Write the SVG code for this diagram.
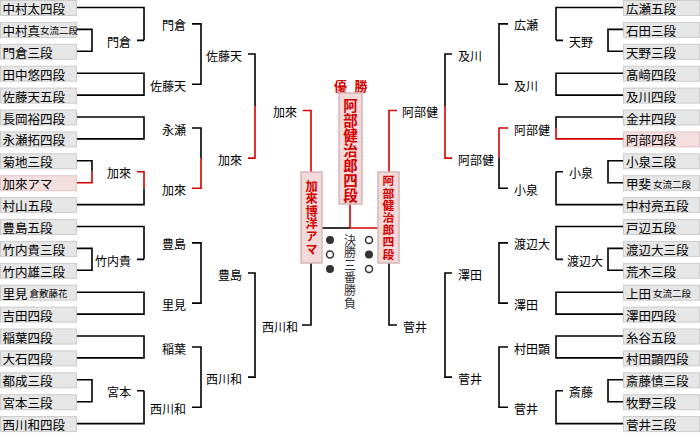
<svg xmlns="http://www.w3.org/2000/svg" width="700" height="433" viewBox="0 0 700 433">
<style>
.b{fill:#e6e6e6;stroke:#cccccc;stroke-width:1}
.p{fill:#f4dfdf;stroke:#e2c4c4;stroke-width:1}
.f{fill:#f2dada;stroke:#d6b6b6;stroke-width:1.5}
text{font-family:"Noto Sans CJK JP","Noto Sans CJK SC",sans-serif;font-size:12.5px;fill:#000;dominant-baseline:central}
.n{font-size:12px}
.e{text-anchor:end}
.s{font-size:9.5px}
.k{stroke:#000;stroke-width:1.6;fill:none}
.r{stroke:#d40000;stroke-width:1.6;fill:none}
.fr{font-weight:bold;fill:#d40000;text-anchor:middle}
.v{writing-mode:vertical-rl;text-anchor:start}
.vr{font-weight:bold;fill:#d40000}
.m{fill:#333;font-size:12px;letter-spacing:0.6px}
.dot{fill:#333}
.ring{fill:#fff;stroke:#333;stroke-width:1.5}
</style>
<rect width="700" height="433" fill="#fff"/>
<g id="connectors">
<path class="k" d="M77 29.4H92V51.3H77M137 40.35H144M77 248.4H92V270.3H77M137 259.35H144M77 379.8H92V401.7H77M137 390.75H144"/>
<path class="k" d="M77 160.8H92V171.75"/>
<path class="r" d="M92 171.75V182.7H77M137 171.75H144V188.2"/>
<path class="k" d="M77 7.5H144V40.35M77 73.2H144V95.1H77M77 117H144V138.9H77M144 188.2V204.6H77M77 226.5H144V259.35M77 292.2H144V314.1H77M77 336H144V357.9H77M144 390.75V423.6H77"/>
<path class="k" d="M192 23.9H201V84.2H192M192 84.2H201M192 128H201V158.1M192 242.9H201V303.15H192M192 347H201V407.2H192M192 407.2H201"/>
<path class="r" d="M192 188.2H201V158.1"/>
<path class="k" d="M248 54H255V106M248 273H255V377.1H248"/>
<path class="r" d="M255 106V158.1H248"/>
<path class="r" d="M303 110.5H311V172"/>
<path class="k" d="M311 263V325H302"/>
<path class="k" d="M623 29.4H608V51.3H623M563 40.35H556M623 160.8H608V182.7H623M563 171.75H556M623 248.4H608V270.3H623M563 259.35H556M623 379.8H608V401.7H623M563 390.75H556"/>
<path class="k" d="M623 7.5H556V40.35M623 73.2H556V95.1H623M623 117H556V128M556 171.75V204.6H623M623 226.5H556V259.35M623 292.2H556V314.1H623M623 336H556V357.9H623M556 390.75V423.6H623"/>
<path class="r" d="M556 128V138.9H623M508 128H499V158.1"/>
<path class="k" d="M508 23.9H499V84.2H508M499 158.1V188.2H508M508 242.9H499V303.15H508M508 347H499V407.2H508"/>
<path class="k" d="M452 54H445V106M452 273H445V377.1H452"/>
<path class="r" d="M445 106V158.1H452M397 110.5H389V172"/>
<path class="k" d="M389 263V325H397"/>
<path class="k" d="M322 228H350"/>
<path class="r" d="M350 204V228H378"/>
</g>
<g id="left-entrants">
<g id="L0"><rect class="b" x="0.5" y="0.5" width="76" height="15"/><text x="2.5" y="8.5">中村太四段</text></g>
<g id="L1"><rect class="b" x="0.5" y="22.4" width="76" height="15"/><text x="2.5" y="30.4">中村真<tspan class="s">女流二段</tspan></text></g>
<g id="L2"><rect class="b" x="0.5" y="44.3" width="76" height="15"/><text x="2.5" y="52.3">門倉三段</text></g>
<g id="L3"><rect class="b" x="0.5" y="66.2" width="76" height="15"/><text x="2.5" y="74.2">田中悠四段</text></g>
<g id="L4"><rect class="b" x="0.5" y="88.1" width="76" height="15"/><text x="2.5" y="96.1">佐藤天五段</text></g>
<g id="L5"><rect class="b" x="0.5" y="110" width="76" height="15"/><text x="2.5" y="118">長岡裕四段</text></g>
<g id="L6"><rect class="b" x="0.5" y="131.9" width="76" height="15"/><text x="2.5" y="139.9">永瀬拓四段</text></g>
<g id="L7"><rect class="b" x="0.5" y="153.8" width="76" height="15"/><text x="2.5" y="161.8">菊地三段</text></g>
<g id="L8"><rect class="p" x="0.5" y="175.7" width="76" height="15"/><text x="2.5" y="183.7">加來アマ</text></g>
<g id="L9"><rect class="b" x="0.5" y="197.6" width="76" height="15"/><text x="2.5" y="205.6">村山五段</text></g>
<g id="L10"><rect class="b" x="0.5" y="219.5" width="76" height="15"/><text x="2.5" y="227.5">豊島五段</text></g>
<g id="L11"><rect class="b" x="0.5" y="241.4" width="76" height="15"/><text x="2.5" y="249.4">竹内貴三段</text></g>
<g id="L12"><rect class="b" x="0.5" y="263.3" width="76" height="15"/><text x="2.5" y="271.3">竹内雄三段</text></g>
<g id="L13"><rect class="b" x="0.5" y="285.2" width="76" height="15"/><text x="2.5" y="293.2">里見<tspan class="s" dx="2">倉敷藤花</tspan></text></g>
<g id="L14"><rect class="b" x="0.5" y="307.1" width="76" height="15"/><text x="2.5" y="315.1">吉田四段</text></g>
<g id="L15"><rect class="b" x="0.5" y="329" width="76" height="15"/><text x="2.5" y="337">稲葉四段</text></g>
<g id="L16"><rect class="b" x="0.5" y="350.9" width="76" height="15"/><text x="2.5" y="358.9">大石四段</text></g>
<g id="L17"><rect class="b" x="0.5" y="372.8" width="76" height="15"/><text x="2.5" y="380.8">都成三段</text></g>
<g id="L18"><rect class="b" x="0.5" y="394.7" width="76" height="15"/><text x="2.5" y="402.7">宮本三段</text></g>
<g id="L19"><rect class="b" x="0.5" y="416.6" width="76" height="15"/><text x="2.5" y="424.6">西川和四段</text></g>
</g>
<g id="right-entrants">
<g id="R0"><rect class="b" x="623.5" y="0.5" width="76" height="15"/><text x="626" y="8.5">広瀬五段</text></g>
<g id="R1"><rect class="b" x="623.5" y="22.4" width="76" height="15"/><text x="626" y="30.4">石田三段</text></g>
<g id="R2"><rect class="b" x="623.5" y="44.3" width="76" height="15"/><text x="626" y="52.3">天野三段</text></g>
<g id="R3"><rect class="b" x="623.5" y="66.2" width="76" height="15"/><text x="626" y="74.2">髙﨑四段</text></g>
<g id="R4"><rect class="b" x="623.5" y="88.1" width="76" height="15"/><text x="626" y="96.1">及川四段</text></g>
<g id="R5"><rect class="b" x="623.5" y="110" width="76" height="15"/><text x="626" y="118">金井四段</text></g>
<g id="R6"><rect class="p" x="623.5" y="131.9" width="76" height="15"/><text x="626" y="139.9">阿部四段</text></g>
<g id="R7"><rect class="b" x="623.5" y="153.8" width="76" height="15"/><text x="626" y="161.8">小泉三段</text></g>
<g id="R8"><rect class="b" x="623.5" y="175.7" width="76" height="15"/><text x="626" y="183.7">甲斐<tspan class="s" dx="2">女流二段</tspan></text></g>
<g id="R9"><rect class="b" x="623.5" y="197.6" width="76" height="15"/><text x="626" y="205.6">中村亮五段</text></g>
<g id="R10"><rect class="b" x="623.5" y="219.5" width="76" height="15"/><text x="626" y="227.5">戸辺五段</text></g>
<g id="R11"><rect class="b" x="623.5" y="241.4" width="76" height="15"/><text x="626" y="249.4">渡辺大三段</text></g>
<g id="R12"><rect class="b" x="623.5" y="263.3" width="76" height="15"/><text x="626" y="271.3">荒木三段</text></g>
<g id="R13"><rect class="b" x="623.5" y="285.2" width="76" height="15"/><text x="626" y="293.2">上田<tspan class="s" dx="2">女流二段</tspan></text></g>
<g id="R14"><rect class="b" x="623.5" y="307.1" width="76" height="15"/><text x="626" y="315.1">澤田四段</text></g>
<g id="R15"><rect class="b" x="623.5" y="329" width="76" height="15"/><text x="626" y="337">糸谷五段</text></g>
<g id="R16"><rect class="b" x="623.5" y="350.9" width="76" height="15"/><text x="626" y="358.9">村田顕四段</text></g>
<g id="R17"><rect class="b" x="623.5" y="372.8" width="76" height="15"/><text x="626" y="380.8">斎藤慎三段</text></g>
<g id="R18"><rect class="b" x="623.5" y="394.7" width="76" height="15"/><text x="626" y="402.7">牧野三段</text></g>
<g id="R19"><rect class="b" x="623.5" y="416.6" width="76" height="15"/><text x="626" y="424.6">菅井三段</text></g>
</g>
<g id="left-winners">
<g id="lw1a"><text class="n e" x="131" y="41.3">門倉</text></g>
<g id="lw1b"><text class="n e" x="131" y="172.8">加來</text></g>
<g id="lw1c"><text class="n e" x="131" y="260.4">竹内貴</text></g>
<g id="lw1d"><text class="n e" x="131" y="391.8">宮本</text></g>
<g id="lw2a"><text class="n e" x="186" y="24.9">門倉</text></g>
<g id="lw2b"><text class="n e" x="186" y="85.2">佐藤天</text></g>
<g id="lw2c"><text class="n e" x="186" y="129">永瀬</text></g>
<g id="lw2d"><text class="n e" x="186" y="189.2">加來</text></g>
<g id="lw2e"><text class="n e" x="186" y="243.9">豊島</text></g>
<g id="lw2f"><text class="n e" x="186" y="304.2">里見</text></g>
<g id="lw2g"><text class="n e" x="186" y="348">稲葉</text></g>
<g id="lw2h"><text class="n e" x="186" y="408.2">西川和</text></g>
<g id="lw3a"><text class="n e" x="242" y="55">佐藤天</text></g>
<g id="lw3b"><text class="n e" x="242" y="159.1">加來</text></g>
<g id="lw3c"><text class="n e" x="242" y="274">豊島</text></g>
<g id="lw3d"><text class="n e" x="242" y="378.1">西川和</text></g>
<g id="lw4a"><text class="n e" x="297" y="111.5">加來</text></g>
<g id="lw4b"><text class="n e" x="298" y="326">西川和</text></g>
</g>
<g id="right-winners">
<g id="rw1a"><text class="n" x="569" y="41.3">天野</text></g>
<g id="rw1b"><text class="n" x="569" y="172.8">小泉</text></g>
<g id="rw1c"><text class="n" x="567" y="260.4">渡辺大</text></g>
<g id="rw1d"><text class="n" x="569" y="391.8">斎藤</text></g>
<g id="rw2a"><text class="n" x="514" y="24.9">広瀬</text></g>
<g id="rw2b"><text class="n" x="514" y="85.2">及川</text></g>
<g id="rw2c"><text class="n" x="514" y="129">阿部健</text></g>
<g id="rw2d"><text class="n" x="514" y="189.2">小泉</text></g>
<g id="rw2e"><text class="n" x="514" y="243.9">渡辺大</text></g>
<g id="rw2f"><text class="n" x="514" y="304.2">澤田</text></g>
<g id="rw2g"><text class="n" x="514" y="348">村田顕</text></g>
<g id="rw2h"><text class="n" x="514" y="408.2">菅井</text></g>
<g id="rw3a"><text class="n" x="458" y="55">及川</text></g>
<g id="rw3b"><text class="n" x="458" y="159.1">阿部健</text></g>
<g id="rw3c"><text class="n" x="458" y="274">澤田</text></g>
<g id="rw3d"><text class="n" x="458" y="378.1">菅井</text></g>
<g id="rw4a"><text class="n" x="402" y="111.5">阿部健</text></g>
<g id="rw4b"><text class="n" x="403" y="326">菅井</text></g>
</g>
<g id="champion">
<text class="fr" y="85" style="font-size:13px"><tspan x="340.5">優</tspan><tspan x="361">勝</tspan></text>
<rect class="f" x="339" y="93" width="23" height="111"/>
<text class="v vr" x="350.5" y="97.75" style="font-size:14.5px;letter-spacing:0.5px">阿部健治郎四段</text>
</g>
<g id="finalist-left">
<rect class="f" x="301" y="172" width="21" height="91"/>
<text class="v vr" x="311.5" y="179.9" style="font-size:12.2px;letter-spacing:0.4px">加來博洋アマ</text>
</g>
<g id="finalist-right">
<rect class="f" x="378" y="172" width="21" height="91"/>
<text class="v vr" x="388.5" y="175.1" style="font-size:11.8px;letter-spacing:0.4px">阿部健治郎四段</text>
</g>
<g id="final-results">
<text class="v m" x="350" y="234">決勝三番勝負</text>
<circle class="dot" cx="330" cy="240" r="4"/>
<circle class="ring" cx="330" cy="254.5" r="3.5"/>
<circle class="dot" cx="330" cy="269" r="4"/>
<circle class="ring" cx="369" cy="240" r="3.5"/>
<circle class="dot" cx="369" cy="254.5" r="4"/>
<circle class="ring" cx="369" cy="269" r="3.5"/>
</g>
</svg>
